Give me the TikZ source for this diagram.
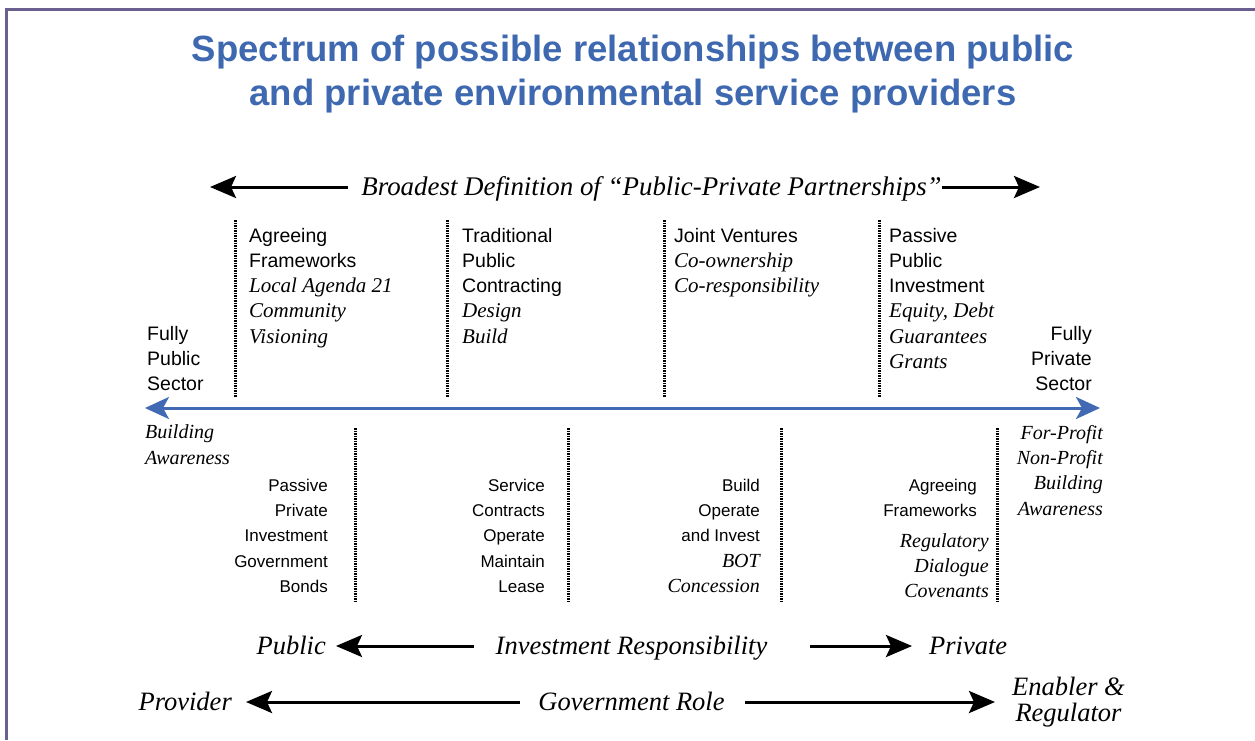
\documentclass[tikz,border=0pt]{standalone}
\usepackage{fontspec}
\setmainfont{Liberation Serif}
\setsansfont{Liberation Sans}
\usetikzlibrary{arrows.meta}
\definecolor{titleblue}{RGB}{62,104,176}
\definecolor{axisblue}{RGB}{66,106,180}
\definecolor{framegray}{RGB}{106,95,143}
\newcommand{\pit}[1]{{\fontsize{21}{25.3}\selectfont\rmfamily\itshape #1}}
\newcommand{\sit}[1]{{\fontsize{20}{25.3}\selectfont\rmfamily\itshape #1}}
\tikzset{
  {frame line/.style} ={draw=framegray,line width=2.5pt},
  {heading/.style} ={font=\fontsize{36.5}{44}\selectfont\sffamily\bfseries,
                     text=titleblue, align=center, inner sep=0},
  {upper col/.style} ={font=\fontsize{19.5}{25.3}\selectfont\sffamily,
                       align=left, anchor=base west, inner sep=0},
  {lower col/.style} ={font=\fontsize{17}{25.4}\selectfont\sffamily,
                       align=right, anchor=base east, inner sep=0},
  {role/.style} ={font=\fontsize{26.5}{26}\selectfont\rmfamily\itshape, inner sep=0},
  {role label/.style} ={role, text height=18pt, text depth=0.5pt},
  {divider/.style} ={draw, line width=3pt, dash pattern=on 1.5pt off 1pt},
  {role arrow/.style} ={draw, line width=3pt,
                        -{Stealth[length=26pt,width=22pt,inset=5pt]}},
  {spectrum axis/.style} ={draw=axisblue, line width=3pt,
                           {Stealth[length=24pt,width=22pt,inset=6pt]}-{Stealth[length=24pt,width=22pt,inset=6pt]}},
}
\begin{document}
\begin{tikzpicture}[x=1pt,y=-1pt]
\useasboundingbox (0,0) rectangle (1255,740);
\draw[frame line] (1255,9.5) -- (6.5,9.5) -- (6.5,740);
\node[heading, anchor=base] (head) at (633,105)
  {Spectrum of possible relationships between public\\and private environmental service providers};

\node[role label, font=\fontsize{26.9}{26}\selectfont\rmfamily\itshape] (ppp) at (651.5,187)
  {Broadest Definition of “Public-Private Partnerships”};
\coordinate (pppL) at (210,187);
\coordinate (pppR) at (1040,187);
\draw[role arrow, shorten <=13pt] (ppp.west) -- (pppL);
\draw[role arrow] (ppp.east) -- (pppR);

% upper half (nodes sit on their last baseline)
\node[upper col] (agree) at (249,343.2)
  {Agreeing\\Frameworks\\\pit{Local Agenda 21}\\\pit{Community}\\\pit{Visioning}};
\node[upper col] (contract) at (462,343.2)
  {Traditional\\Public\\Contracting\\\pit{Design}\\\pit{Build}};
\node[upper col] (joint) at (674,292.6)
  {Joint Ventures\\\pit{Co-ownership}\\\pit{Co-responsibility}};
\node[upper col] (passive pub) at (889,368.5)
  {Passive\\Public\\Investment\\\pit{Equity, Debt}\\\pit{Guarantees}\\\pit{Grants}};
\node[upper col] (public sector) at (147,390.6) {Fully\\Public\\Sector};
\node[upper col, align=right, anchor=base east] (private sector) at (1092,390.6)
  {Fully\\Private\\Sector};
\foreach \x in {235,447,664,879}
  \draw[divider] (\x,220) -- (\x,397);

\coordinate (axisL) at (145,408);
\coordinate (axisR) at (1100,408);
\draw[spectrum axis] (axisL) -- (axisR);

% lower half
\foreach \x in {355,568,781,997}
  \draw[divider] (\x,428) -- (\x,603);
\node[lower col, align=left, anchor=base west] (aware) at (145,464.3)
  {\sit{Building}\\\sit{Awareness}};
\node[lower col] (passive priv) at (328,592.6)
  {Passive\\Private\\Investment\\Government\\Bonds};
\node[lower col] (service) at (545,592.6)
  {Service\\Contracts\\Operate\\Maintain\\Lease};
\node[lower col] (bot) at (760,592.6)
  {Build\\Operate\\and Invest\\\sit{BOT}\\\sit{Concession}};
\node[lower col] (agree low) at (977,516.4) {Agreeing\\Frameworks};
\node[lower col] (regul) at (989,597.8)
  {\sit{Regulatory}\\\sit{Dialogue}\\\sit{Covenants}};
\node[lower col] (profit) at (1103,515.2)
  {\sit{For-Profit}\\\sit{Non-Profit}\\\sit{Building}\\\sit{Awareness}};

% roles
\node[role label] (invest) at (631.5,646) {Investment Responsibility};
\node[role label, anchor=east] (public) at (326,646) {Public};
\node[role label, anchor=west] (private) at (929,646) {Private};
\draw[role arrow, shorten <=22pt, shorten >=10pt] (invest.west) -- (public.east);
\draw[role arrow, shorten <=43pt, shorten >=17pt] (invest.east) -- (private.west);

\node[role label] (gov) at (631.5,702) {Government Role};
\node[role label, anchor=east] (provider) at (232,702) {Provider};
\node[role, align=center, anchor=west] (enabler) at (1012,702) {Enabler \&\\Regulator};
\draw[role arrow, shorten <=18pt, shorten >=14pt] (gov.west) -- (provider.east);
\draw[role arrow, shorten <=20pt, shorten >=17pt] (gov.east) -- (enabler.west);
\end{tikzpicture}
\end{document}
